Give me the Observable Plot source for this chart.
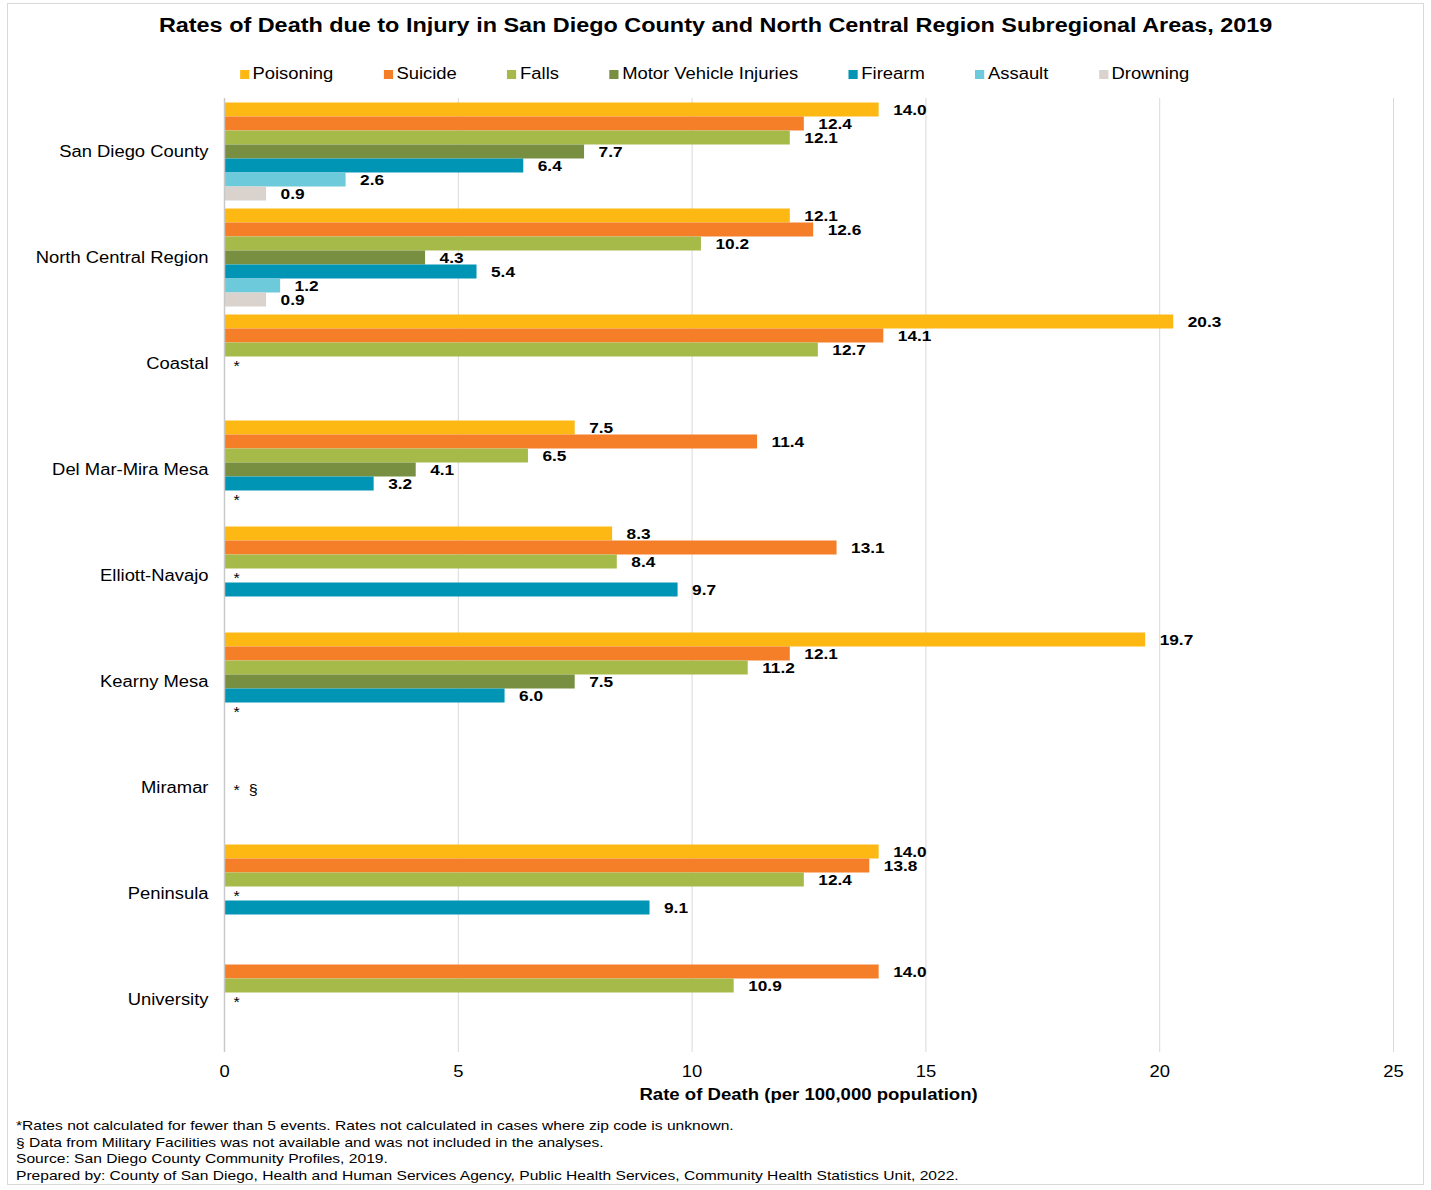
<!DOCTYPE html>
<html>
<head>
<meta charset="utf-8">
<script src="https://cdn.jsdelivr.net/npm/d3@7"></script>
<script src="https://cdn.jsdelivr.net/npm/@observablehq/plot@0.6"></script>
<style>
  html, body { margin: 0; padding: 0; background: #fff; }
  body { width: 1431px; height: 1190px; position: relative; font-family: "Liberation Sans", Arial, sans-serif; color: #000; overflow: hidden; }
  #frame { position: absolute; left: 7px; top: 3px; width: 1417px; height: 1182px; border: 1px solid #d9d9d9; box-sizing: border-box; }
  #title { position: absolute; left: 0; top: 12px; width: 1431px; text-align: center; font-weight: bold; font-size: 19.5px; line-height: 26px; transform: scaleX(1.2); transform-origin: 715px 0; }
  #legend { position: absolute; left: 0; top: 64px; width: 1431px; display: flex; justify-content: center; gap: 44px; font-size: 16px; line-height: 20px; transform: scaleX(1.15); transform-origin: 722px 0; }
  #legend .item { display: flex; align-items: center; }
  #legend .sw { width: 8px; height: 9px; margin-right: 3px; }
  #chart { position: absolute; left: 0; top: 85px; }
  #chart svg { display: block; }
  #xlabel { position: absolute; left: 224px; width: 1169px; top: 1085px; text-align: center; font-weight: bold; font-size: 16px; line-height: 20px; transform: scaleX(1.16); transform-origin: 584px 0; }
  #notes { position: absolute; left: 16px; top: 1118px; font-size: 13.5px; line-height: 16.6px; white-space: nowrap; transform: scaleX(1.155); transform-origin: 0 0; }
</style>
</head>
<body>
<div id="frame"></div>
<div id="title"></div>
<div id="legend"></div>
<div id="chart"></div>
<div id="xlabel"></div>
<div id="notes"></div>
<script>
// ---- data ----
const titleText = "Rates of Death due to Injury in San Diego County and North Central Region Subregional Areas, 2019";
const xAxisLabel = "Rate of Death (per 100,000 population)";
const groups = ["San Diego County", "North Central Region", "Coastal", "Del Mar-Mira Mesa", "Elliott-Navajo", "Kearny Mesa", "Miramar", "Peninsula", "University"];
const series = ["Poisoning", "Suicide", "Falls", "Motor Vehicle Injuries", "Firearm", "Assault", "Drowning"];
const poisoning = [14.0, 12.1, 20.3, 7.5, 8.3, 19.7, null, 14.0, null];
const suicide   = [12.4, 12.6, 14.1, 11.4, 13.1, 12.1, null, 13.8, 14.0];
const falls     = [12.1, 10.2, 12.7, 6.5, 8.4, 11.2, null, 12.4, 10.9];
const motorVehicle = [7.7, 4.3, null, 4.1, null, 7.5, null, null, null];
const firearm   = [6.4, 5.4, null, 3.2, 9.7, 6.0, null, 9.1, null];
const assault   = [2.6, 1.2, null, null, null, null, null, null, null];
const drowning  = [0.9, 0.9, null, null, null, null, null, null, null];
const xTicks = [0, 5, 10, 15, 20, 25];
// suppressed-rate markers
const noteGroups = ["Coastal", "Del Mar-Mira Mesa", "Elliott-Navajo", "Kearny Mesa", "Miramar", "Peninsula", "University"];
const noteSeries = ["Motor Vehicle Injuries", "Assault", "Motor Vehicle Injuries", "Assault", "Motor Vehicle Injuries", "Motor Vehicle Injuries", "Motor Vehicle Injuries"];
const noteText   = ["*", "*", "*", "*", "*  §", "*", "*"];
const footnotes = [
  "*Rates not calculated for fewer than 5 events. Rates not calculated in cases where zip code is unknown.",
  "§ Data from Military Facilities was not available and was not included in the analyses.",
  "Source: San Diego County Community Profiles, 2019.",
  "Prepared by: County of San Diego, Health and Human Services Agency, Public Health Services, Community Health Statistics Unit, 2022."
];

// ---- styles ----
const colors = ["#FDB813", "#F47F28", "#A6BA4A", "#788F42", "#0094B5", "#6CCADB", "#DAD2CC"];

// ---- build table ----
const seriesValues = [poisoning, suicide, falls, motorVehicle, firearm, assault, drowning];
const data = [];
groups.forEach((g, gi) => {
  series.forEach((s, si) => {
    const v = seriesValues[si][gi];
    if (v != null) data.push({group: g, series: s, value: v});
  });
});
const notes = noteGroups.map((g, i) => ({group: g, series: noteSeries[i], text: noteText[i]}));

document.getElementById("title").textContent = titleText;
document.getElementById("xlabel").textContent = xAxisLabel;
document.getElementById("notes").innerHTML = footnotes.map(t => `<div>${t}</div>`).join("");
const legend = document.getElementById("legend");
series.forEach((s, i) => {
  const it = document.createElement("div");
  it.className = "item";
  it.innerHTML = `<span class="sw" style="background:${colors[i]}"></span><span>${s}</span>`;
  legend.appendChild(it);
});

const chart = Plot.plot({
  width: 1431,
  height: 998,
  marginLeft: 224,
  marginRight: 38,
  marginTop: 11.5,
  marginBottom: 30,
  style: {fontFamily: "'Liberation Sans', Arial, sans-serif", fontSize: "16px", color: "#000", background: "transparent"},
  x: {domain: [0, 25], ticks: xTicks, tickSize: 0, tickPadding: 13, label: null, tickFormat: d => String(d)},
  y: {domain: series, axis: null, paddingInner: 0, paddingOuter: 0.15},
  fy: {domain: groups, padding: 0, axis: "left", label: null, tickSize: 0, tickPadding: 16},
  color: {domain: series, range: colors},
  marks: [
    Plot.ruleX(xTicks.filter(d => d > 0), {stroke: "#d9d9d9", strokeWidth: 1, strokeOpacity: 1}),
    Plot.barX(data, {x: "value", y: "series", fy: "group", fill: "series"}),
    Plot.ruleX([0], {stroke: "#c8c8c8", strokeWidth: 1.5, strokeOpacity: 1}),
    Plot.text(data, {x: "value", y: "series", fy: "group", text: d => d.value.toFixed(1), dx: 14, dy: 0, textAnchor: "start", fontWeight: "bold", fontSize: 15, fill: "#000"}),
    Plot.text(notes, {x: 0, y: "series", fy: "group", text: "text", dx: 9, dy: 3, textAnchor: "start", fontSize: 14, fill: "#000"})
  ]
});
document.getElementById("chart").appendChild(chart);
// widen glyphs to match the reference's horizontally stretched lettering
chart.querySelectorAll("text").forEach(t => {
  const w = t.getComputedTextLength();
  if (w > 0) {
    t.setAttribute("textLength", (w * 1.15).toFixed(2));
    t.setAttribute("lengthAdjust", "spacingAndGlyphs");
  }
});
</script>
</body>
</html>
